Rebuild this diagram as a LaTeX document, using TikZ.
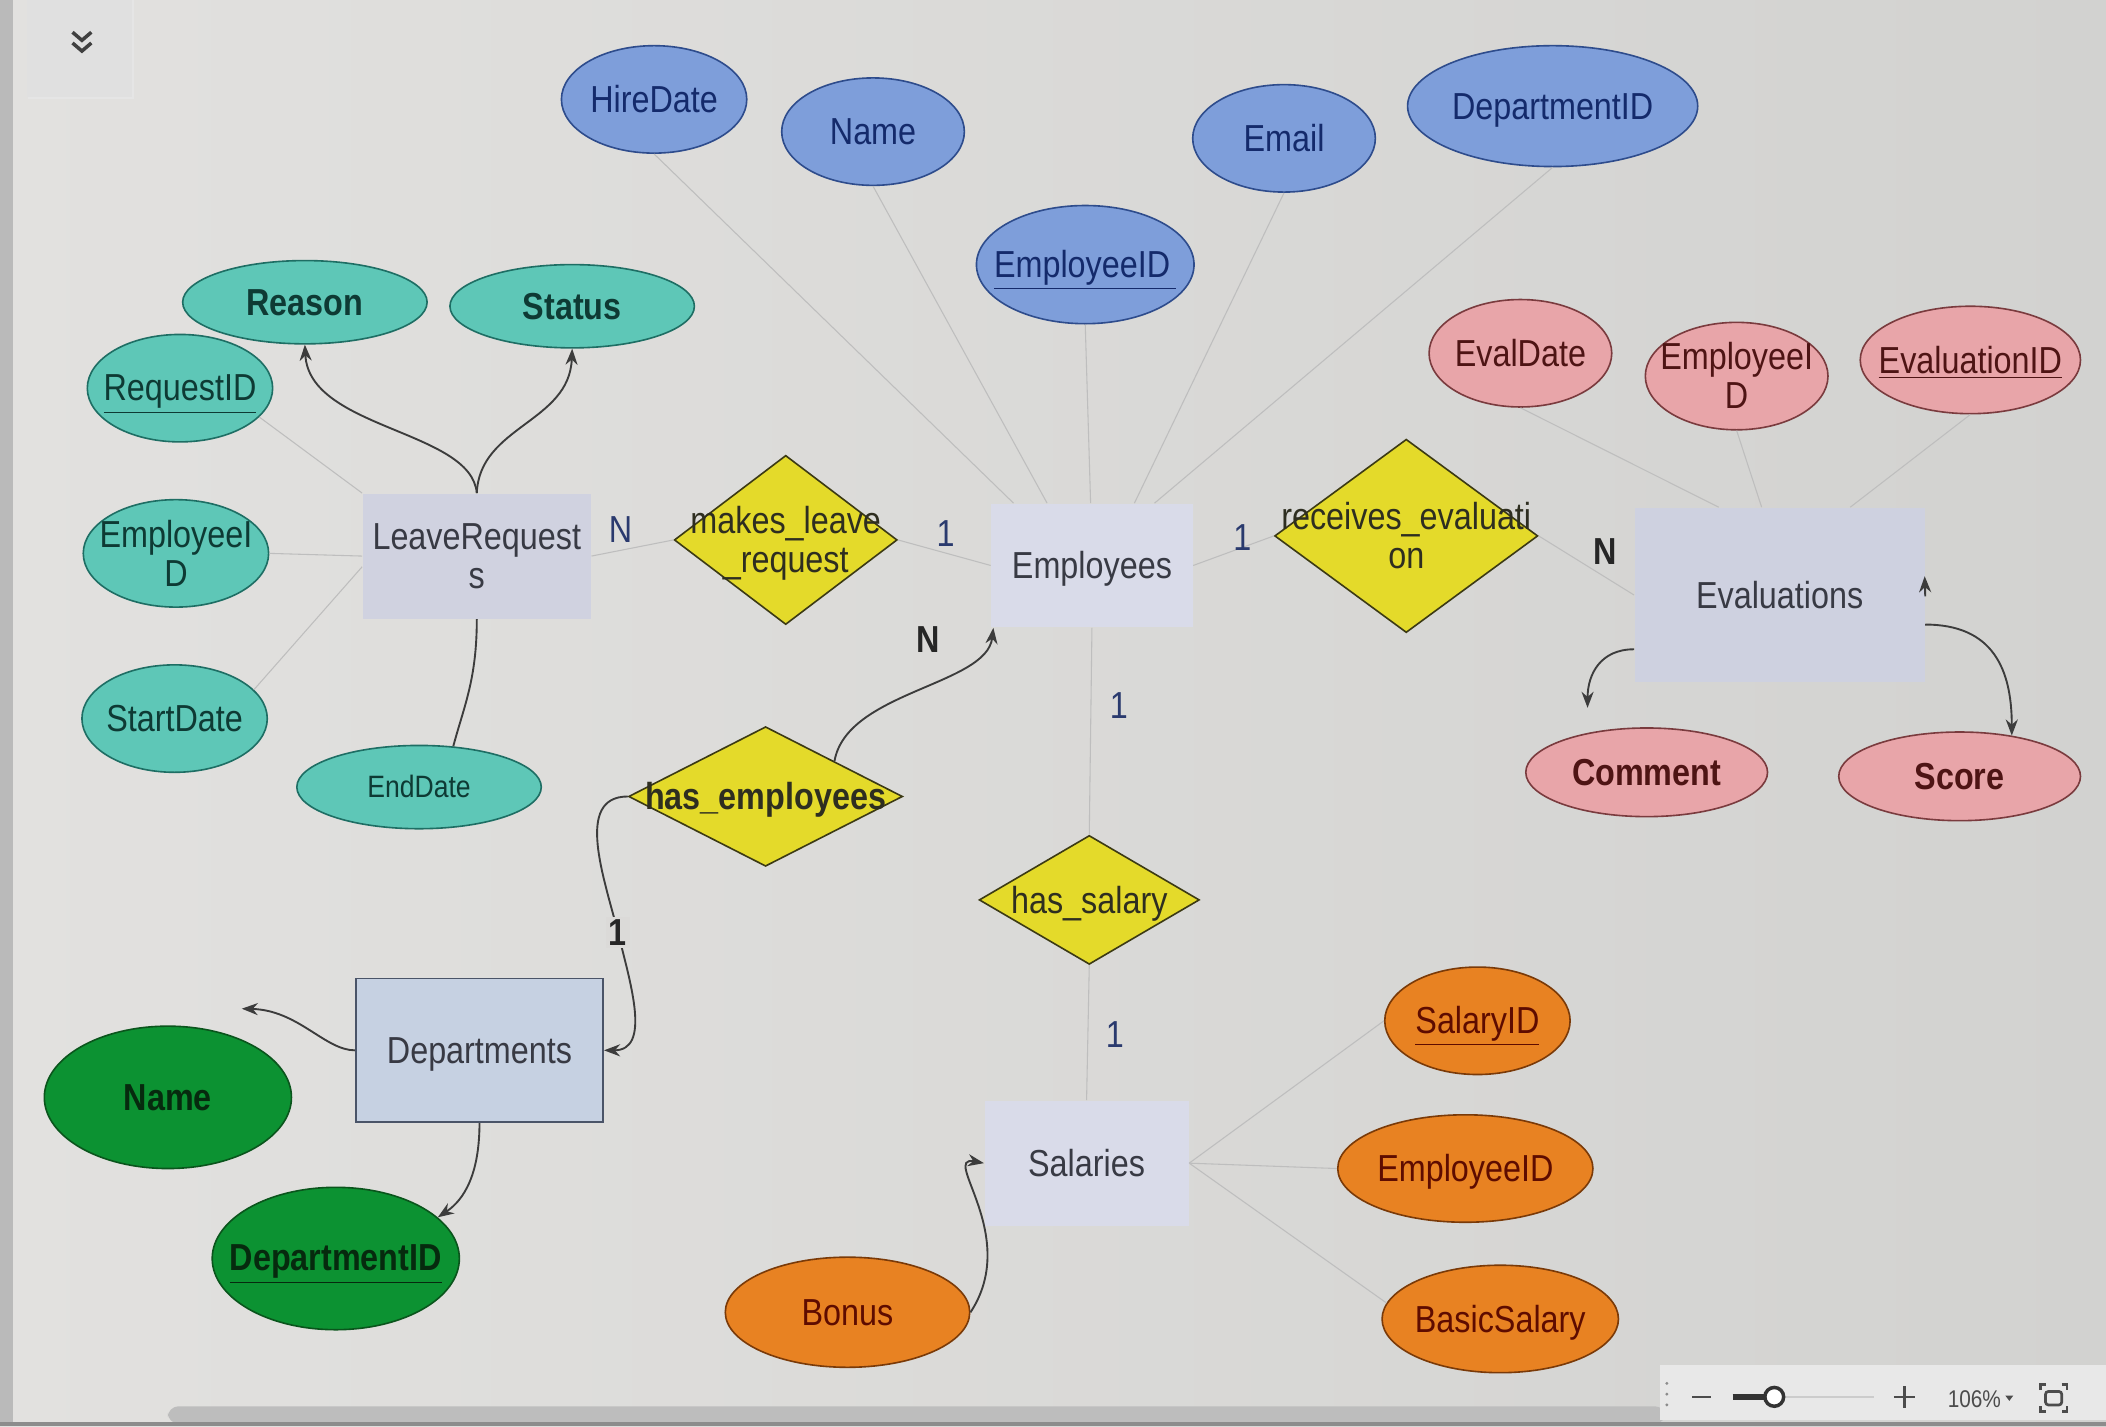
\documentclass[tikz,border=0pt]{standalone}
\usepackage{fontspec}
\setmainfont{Liberation Sans}[FakeStretch=0.86]
\usetikzlibrary{shapes.geometric,calc,arrows.meta}
\newcommand\ctext[1]{\smash{\makebox[0pt]{\raisebox{-0.40em}{\begin{tabular}{@{}c@{}}#1\end{tabular}}}}}
\definecolor{bgl}{HTML}{E2E1DF}
\definecolor{bgr}{HTML}{D2D2D0}
\definecolor{bluef}{HTML}{7E9EDA}
\definecolor{blued}{HTML}{2E4C8C}
\definecolor{bluet}{HTML}{142A6B}
\definecolor{tealf}{HTML}{5EC7B7}
\definecolor{teald}{HTML}{1E6E64}
\definecolor{tealt}{HTML}{0E3A34}
\definecolor{pinkf}{HTML}{E8A5A9}
\definecolor{pinkd}{HTML}{7A3B3E}
\definecolor{pinkt}{HTML}{4E1414}
\definecolor{greenf}{HTML}{0C9232}
\definecolor{greend}{HTML}{0A551C}
\definecolor{greent}{HTML}{062A0E}
\definecolor{orangef}{HTML}{E88222}
\definecolor{oranged}{HTML}{7A3A08}
\definecolor{oranget}{HTML}{5E0C00}
\definecolor{relf}{HTML}{E4DA2A}
\definecolor{reld}{HTML}{3C3A14}
\definecolor{relt}{HTML}{2E2E20}
\definecolor{entf}{HTML}{D9DBE9}
\definecolor{evalf}{HTML}{CED1E0}
\definecolor{entt}{HTML}{383A44}
\definecolor{deptf}{HTML}{C6D1E2}
\definecolor{deptd}{HTML}{4A5468}
\definecolor{lineg}{HTML}{BEBEBE}
\definecolor{curveg}{HTML}{3C3C3C}
\definecolor{cardt}{HTML}{2A3A6E}
\tikzset{
  attr/.style={ellipse, draw, line width=0.6pt, inner sep=0pt},
  blueattr/.style={attr, fill=bluef, draw=blued, text=bluet},
  tealattr/.style={attr, fill=tealf, draw=teald, text=tealt},
  pinkattr/.style={attr, fill=pinkf, draw=pinkd, text=pinkt},
  greenattr/.style={attr, fill=greenf, draw=greend, text=greent},
  orangeattr/.style={attr, fill=orangef, draw=oranged, text=oranget},
  entity/.style={rectangle, inner sep=0pt, fill=entf, text=entt},
  rel/.style={diamond, draw=reld, fill=relf, text=relt, inner sep=0pt, line width=0.6pt},
  thinl/.style={draw=lineg, line width=0.4pt},
  curvel/.style={draw=curveg, line width=0.7pt},
  arr/.style={-{Stealth[length=6pt,width=4.5pt]}},
  card/.style={text=cardt, inner sep=1pt},
  cardb/.style={text=black!85, font=\fontsize{14}{14}\selectfont\bfseries, inner sep=1pt},
  bfnode/.style={font=\fontsize{14}{14.5}\selectfont\bfseries}
}
\begin{document}
\begin{tikzpicture}[x=0.5pt,y=-0.5pt,font=\fontsize{14}{14.5}\selectfont]
\useasboundingbox (0,0) rectangle (1568,1062);
% background
\fill[left color=bgl, right color=bgr] (0,0) rectangle (1568,1062);
\fill[color=black!27!white] (0,0) rectangle (10,1062);
% top-left button
\fill[black!10] (21,0) rectangle (100,74);
\fill[white!88!black] (20,0) rectangle (98,72);
\draw[black!75, line width=1.3pt] (54,24) -- (61,30) -- (68,24);
\draw[black!75, line width=1.3pt] (54,32) -- (61,38) -- (68,32);

% ---------- Employees ----------
\node[entity, minimum width=75pt, minimum height=46pt] (emp) at (813,421) {\ctext{Employees}};
\node[blueattr, minimum width=69pt, minimum height=40pt] (hire) at (487,74) {\ctext{HireDate}};
\node[blueattr, minimum width=68pt, minimum height=40pt] (ename) at (650,98) {\ctext{Name}};
\node[blueattr, minimum width=81pt, minimum height=44pt] (eid) at (808,197) {\ctext{\underline{EmployeeID\,}}};
\node[blueattr, minimum width=68pt, minimum height=40pt] (email) at (956,103) {\ctext{Email}};
\node[blueattr, minimum width=108pt, minimum height=45pt] (edept) at (1156,79) {\ctext{DepartmentID}};
\draw[thinl] (hire.south) -- ($(emp.north west)+(17,0)$);
\draw[thinl] (ename.south) -- ($(emp.north west)+(42,0)$);
\draw[thinl] (eid.south) -- ($(emp.north)+(-1,0)$);
\draw[thinl] (email.south) -- ($(emp.north west)+(107,0)$);
\draw[thinl] (edept.south) -- ($(emp.north west)+(122,0)$);

% ---------- LeaveRequests ----------
\node[entity, fill=entf!96!black, minimum width=85pt, minimum height=46.5pt] (lr) at (355,414) {\ctext{LeaveRequest\\s}};
\node[tealattr, bfnode, minimum width=91pt, minimum height=31pt] (reason) at (227,225) {\ctext{Reason}};
\node[tealattr, bfnode, minimum width=91pt, minimum height=31pt] (status) at (426,228) {\ctext{Status}};
\node[tealattr, minimum width=69pt, minimum height=40pt] (reqid) at (134,289) {\ctext{\underline{RequestID}}};
\node[tealattr, minimum width=69pt, minimum height=40pt] (lreid) at (131,412) {\ctext{EmployeeI\\D}};
\node[tealattr, minimum width=69pt, minimum height=40pt] (start) at (130,535) {\ctext{StartDate}};
\node[tealattr, font=\fontsize{11.5}{12}\selectfont, minimum width=91pt, minimum height=31pt] (endd) at (312,586) {\ctext{EndDate}};
\draw[thinl] (reqid.-20) -- (lr.north west);
\draw[thinl] (lreid.east) -- (lr.west);
\draw[thinl] (start.20) -- ($(lr.west)+(0,8)$);
\draw[curvel, arr] (lr.north) .. controls +(-4,-47) and +(3,63) .. (reason.south);
\draw[curvel, arr] (lr.north) .. controls +(2,-50) and +(-2,55) .. (status.south);
\draw[curvel] (lr.south) .. controls +(0,45) and +(8,-30) .. (endd.50);

% ---------- makes_leave_request ----------
\node[rel, minimum width=83pt, minimum height=63pt] (makes) at (585,402) {\ctext{makes\_leave\\\_request}};
\draw[thinl] (lr.east) -- (makes.west);
\draw[thinl] (makes.east) -- (emp.west);
\node[card] (cn1) at (462,394) {N};
\node[card] (c11) at (704,397) {1};

% ---------- receives_evaluation ----------
\node[rel, minimum width=98pt, minimum height=72pt] (recv) at (1047,399) {\ctext{receives\_evaluati\\on}};
\node[entity, fill=evalf, minimum width=108pt, minimum height=65pt] (eval) at (1325,443) {\ctext{Evaluations}};
\draw[thinl] (emp.east) -- (recv.west);
\draw[thinl] (recv.east) -- (eval.west);
\node[card] (c12) at (925,400) {1};
\node[cardb] (cn2) at (1195,411) {N};

\node[pinkattr, minimum width=68pt, minimum height=40pt] (evdate) at (1132,263) {\ctext{EvalDate}};
\node[pinkattr, minimum width=68pt, minimum height=40pt] (evemp) at (1293,280) {\ctext{EmployeeI\\D}};
\node[pinkattr, minimum width=82pt, minimum height=40pt] (evid) at (1467,268) {\ctext{\underline{EvaluationID}}};
\node[pinkattr, bfnode, minimum width=90pt, minimum height=33pt] (comment) at (1226,575) {\ctext{Comment}};
\node[pinkattr, bfnode, minimum width=90pt, minimum height=33pt] (score) at (1459,578) {\ctext{Score}};
\draw[thinl] (evdate.south) -- ($(eval.north west)+(63,0)$);
\draw[thinl] (evemp.south) -- ($(eval.north west)+(95,0)$);
\draw[thinl] (evid.south) -- ($(eval.north west)+(161,0)$);
\coordinate (ctip) at (1182,527);
\draw[curvel, arr] ($(eval.south west)+(0,-25)$) .. controls +(-25,0) and +(0,-25) .. (ctip);
\draw[curvel, arr] ($(eval.east)+(0,22)$) .. controls +(50,0) and +(0,-50) .. (score.38);
\coordinate (stubtop) at (1433,429);
\draw[curvel, arr] ($(eval.east)+(0,1)$) -- (stubtop);

% ---------- has_employees ----------
\node[rel, bfnode, minimum width=102pt, minimum height=52pt] (hasemp) at (570,593) {\ctext{has\_employees}};
\node[rectangle, draw=deptd, fill=deptf, text=entt, line width=0.7pt, inner sep=0pt, minimum width=92pt, minimum height=53.5pt] (dept) at (357,782) {\ctext{Departments}};
\draw[curvel, arr] (hasemp.north east) .. controls +(9,-52) and +(-5,43) .. ($(emp.south west)+(2,0)$);
\node[cardb] (cn3) at (691,476) {N};
\coordinate (dmid) at (460,694);
\draw[curvel, arr] (hasemp.west) .. controls +(-40,0) and +(-10,-40) .. (dmid)
   .. controls +(10,40) and +(35,0) .. (dept.east);
\node[cardb, fill=bgl!97!black] (c13) at (dmid) {1};

\node[greenattr, bfnode, minimum width=92pt, minimum height=53pt] (dname) at (125,817) {\ctext{Name}};
\node[greenattr, bfnode, minimum width=92pt, minimum height=53pt] (ddept) at (250,937) {\ctext{\underline{DepartmentID}}};
\coordinate (dntip) at (180,751);
\draw[curvel, arr] (dept.west) .. controls (242,782) and (222,752) .. (dntip);
\draw[curvel, arr] (dept.south) .. controls +(0,45) and +(15,-10) .. (ddept.22);

% ---------- has_salary ----------
\node[rel, minimum width=82pt, minimum height=48pt] (hassal) at (811,670) {\ctext{has\_salary}};
\node[entity, minimum width=76pt, minimum height=46.5pt] (sal) at (809,866) {\ctext{Salaries}};
\draw[thinl] (emp.south) -- (hassal.north);
\draw[thinl] (hassal.south) -- (sal.north);
\node[card] (c14) at (833,525) {1};
\node[card] (c15) at (830,770) {1};

\node[orangeattr, minimum width=69pt, minimum height=40pt] (salid) at (1100,760) {\ctext{\underline{SalaryID}}};
\node[orangeattr, minimum width=95pt, minimum height=40pt] (salemp) at (1091,870) {\ctext{EmployeeID}};
\node[orangeattr, minimum width=88pt, minimum height=40pt] (basic) at (1117,982) {\ctext{BasicSalary}};
\node[orangeattr, minimum width=91pt, minimum height=41pt] (bonus) at (631,977) {\ctext{Bonus}};
\draw[thinl] (sal.east) -- (salid.west);
\draw[thinl] (sal.east) -- (salemp.west);
\draw[thinl] (sal.east) -- (basic.172);
\draw[curvel, arr] (bonus.east) .. controls (760,920) and (700,860) .. (sal.west);

% ---------- bottom bar ----------
\fill[black!26, rounded corners=4pt] (125,1047) rectangle (1240,1060);
\fill[black!45] (0,1059) rectangle (1568,1062);
\fill[white!91!black] (1236,1016) rectangle (1568,1057);
\fill[black!45] (1241,1030) circle (1.2) (1241,1038) circle (1.2) (1241,1046) circle (1.2);
\draw[black!70, line width=1pt] (1260,1040) -- (1274,1040);
\draw[black!20, line width=1pt] (1329,1040) -- (1395,1040);
\draw[black!80, line width=2.5pt] (1290,1040) -- (1313,1040);
\draw[black!80, fill=white, line width=1.3pt] (1321,1040) circle (7);
\draw[black!70, line width=1pt] (1410,1040) -- (1426,1040) (1418,1032) -- (1418,1048);
\node[text=black!70, font=\fontsize{9}{9}\selectfont, inner sep=0pt] (zoomtxt) at (1470,1042) {106\%};
\fill[black!70] (1493,1039) -- (1499,1039) -- (1496,1043) -- cycle;
\draw[black!70, line width=1pt] (1519,1035) -- (1519,1031) -- (1523,1031) (1535,1031) -- (1539,1031) -- (1539,1035)
  (1539,1047) -- (1539,1051) -- (1535,1051) (1523,1051) -- (1519,1051) -- (1519,1047);
\draw[black!70, line width=1pt, rounded corners=1pt] (1523,1036) rectangle (1535,1046);
\end{tikzpicture}
\end{document}
